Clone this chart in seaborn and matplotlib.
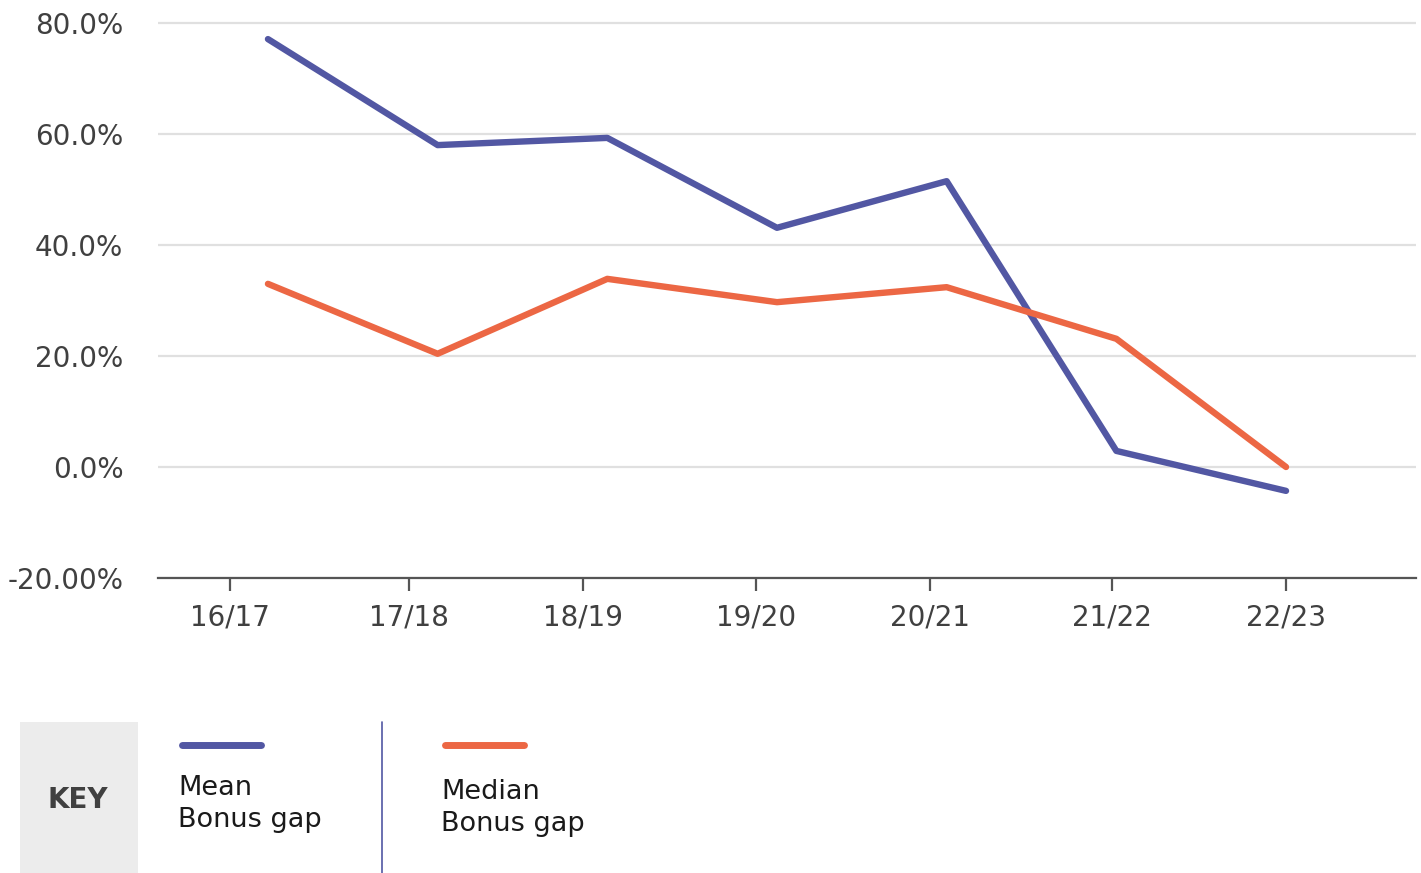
import numpy as np
import pandas as pd
import matplotlib.pyplot as plt
import seaborn as sns
from matplotlib.lines import Line2D
from matplotlib.patches import Rectangle

# Values
years = ['16/17', '17/18', '18/19', '19/20', '20/21', '21/22', '22/23']
mean_gap = [77.1, 58.0, 59.3, 43.1, 51.5, 2.9, -4.3]
median_gap = [33.0, 20.4, 33.9, 29.7, 32.4, 23.1, 0.0]
series_names = ['Mean Bonus gap', 'Median Bonus gap']
y_ticks = [-20, 0, 20, 40, 60, 80]
y_labels = ['-20.00%', '0.0%', '20.0%', '40.0%', '60.0%', '80.0%']

colors = ['#5257a3', '#ec6744']
# tick marks in the original sit a little left of the data points
tick_pos = [-0.224, 0.831, 1.857, 2.876, 3.902, 4.974, 6.0]

df = pd.DataFrame({
    'x': list(range(len(years))) * 2,
    'value': mean_gap + median_gap,
    'series': [series_names[0]] * len(years) + [series_names[1]] * len(years),
})

sns.set_style('white')
plt.rcParams['font.family'] = ['DejaVu Sans']

W, H = 1421, 873
fig = plt.figure(figsize=(W / 100, H / 100), dpi=100)
top_px = 578 - 555 * 100.6 / 100
ax = fig.add_axes([158 / W, 1 - 578 / H, (1416 - 158) / W, (578 - top_px) / H])

sns.lineplot(data=df, x='x', y='value', hue='series', palette=colors,
             linewidth=4.6, legend=False, ax=ax, solid_capstyle='round')

ax.set_xlim(-0.648, 6.766)
ax.set_ylim(-20, 80.6)
ax.set_yticks(y_ticks)
ax.set_yticklabels(y_labels)
ax.set_xticks(tick_pos)
ax.set_xticklabels(years)
ax.set_xlabel('')
ax.set_ylabel('')

ax.yaxis.grid(True, color='#e0e0e0', linewidth=1.6)
ax.set_axisbelow(True)
for s in ['left', 'right', 'top']:
    ax.spines[s].set_visible(False)
ax.spines['bottom'].set_color('#555555')
ax.spines['bottom'].set_linewidth(1.6)

ax.tick_params(axis='y', left=False, length=0, pad=25, labelsize=20, labelcolor='#404040')
ax.tick_params(axis='x', bottom=True, length=9, width=1.6, color='#555555', pad=9,
               labelsize=20, labelcolor='#404040', direction='out')

# key panel at the bottom
fig.add_artist(Rectangle((20 / W, 0), (138 - 20) / W, (873 - 722) / H,
                         transform=fig.transFigure, color='#ececec', lw=0))
fig.text(78 / W, 1 - 800 / H, 'KEY', ha='center', va='center',
         fontsize=20, fontweight='bold', color='#404040')
fig.add_artist(Line2D([382 / W, 382 / W], [0, 1 - 722 / H], transform=fig.transFigure,
                      color='#5257a3', lw=1.2))

fig.add_artist(Line2D([182 / W, 261 / W], [1 - 745 / H] * 2, transform=fig.transFigure,
                      color=colors[0], lw=5, solid_capstyle='round'))
fig.add_artist(Line2D([445 / W, 524 / W], [1 - 745 / H] * 2, transform=fig.transFigure,
                      color=colors[1], lw=5, solid_capstyle='round'))

fig.text(178 / W, 1 - 788 / H, 'Mean', ha='left', va='center', fontsize=19.5, color='#1a1a1a')
fig.text(178 / W, 1 - 820 / H, 'Bonus gap', ha='left', va='center', fontsize=19.5, color='#1a1a1a')
fig.text(441 / W, 1 - 792 / H, 'Median', ha='left', va='center', fontsize=19.5, color='#1a1a1a')
fig.text(441 / W, 1 - 824 / H, 'Bonus gap', ha='left', va='center', fontsize=19.5, color='#1a1a1a')

fig.savefig('out.png', dpi=100)
